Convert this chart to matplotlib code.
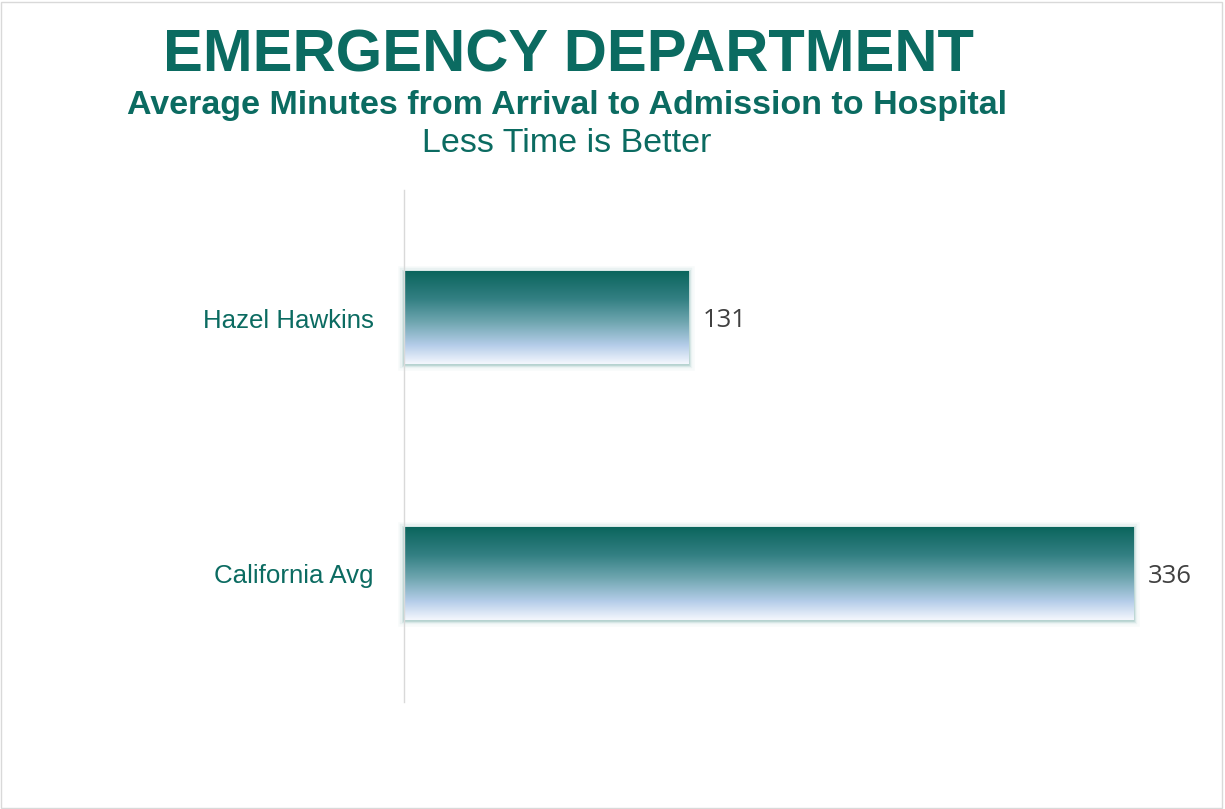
import matplotlib
matplotlib.use("Agg")
import matplotlib.pyplot as plt
import numpy as np
from matplotlib.colors import LinearSegmentedColormap
from matplotlib.patches import Rectangle

# ---- data ----
categories = ["Hazel Hawkins", "California Avg"]
values = [131, 336]
title = "EMERGENCY DEPARTMENT"
subtitle = "Average Minutes from Arrival to Admission to Hospital"
subtitle2 = "Less Time is Better"

TEAL = "#0b6b61"
W, H = 1225, 809
fig = plt.figure(figsize=(W / 100, H / 100), dpi=100)
fig.patch.set_facecolor("white")

ax = fig.add_axes([404 / W, 1 - 702 / H, (1170 - 404) / W, (702 - 190) / H])
ax.set_facecolor("none")
for s in ["top", "right", "bottom"]:
    ax.spines[s].set_visible(False)
ax.spines["left"].set_color("#d9d9d9")
ax.spines["left"].set_linewidth(1)
ax.set_xticks([])
ax.set_yticks(range(len(categories)))
ax.set_yticklabels(categories, fontsize=18.6, color=TEAL, family="Liberation Sans")
ax.tick_params(axis="y", length=0, pad=22)

cmap = LinearSegmentedColormap.from_list(
    "grad", [(0, "#0b655d"), (0.3, "#338083"), (0.55, "#6fa6b0"),
             (0.8, "#b5cde9"), (1, "#f4f7fd")])
grad = np.linspace(0, 1, 256).reshape(-1, 1)
bh = 0.36
bars = ax.barh(range(len(categories)), values, height=bh, color="none", edgecolor="none")
for b, v in zip(bars, values):
    x0, y0 = b.get_x(), b.get_y()
    w, h = b.get_width(), b.get_height()
    # soft glow around the bar
    for lw, a in [(9, 0.035), (6, 0.06), (3.5, 0.1), (1.8, 0.18)]:
        ax.add_patch(Rectangle((x0, y0), w, h, fill=False, edgecolor="#2a7f76",
                               linewidth=lw, alpha=a, zorder=1, clip_on=False))
    ax.imshow(grad, cmap=cmap, aspect="auto", extent=[x0, x0 + w, y0 + h, y0],
              zorder=2, interpolation="bicubic")
    ax.annotate(f"{v}", (x0 + w, y0 + h / 2), xytext=(10.5, -2), textcoords="offset points",
                ha="left", va="center", fontsize=18.5, color="#404040", family="Open Sans")
ax.set_xlim(0, 353)
ax.set_ylim(1.5, -0.5)

fig.text(568 / W, 1 - 71 / H, title, ha="center", va="baseline", fontsize=43,
         fontweight="bold", color=TEAL, family="Liberation Sans")
fig.text(567 / W, 1 - 114 / H, subtitle, ha="center", va="baseline", fontsize=24.5,
         fontweight="bold", color=TEAL, family="Liberation Sans")
fig.text(567 / W, 1 - 152 / H, subtitle2, ha="center", va="baseline", fontsize=24.5,
         color=TEAL, family="Liberation Sans")

fig.add_artist(Rectangle((1 / W, 1 / H), (W - 4) / W, (H - 3) / H, transform=fig.transFigure,
                         fill=False, edgecolor="#d9d9d9", linewidth=1))

fig.savefig("out.png", dpi=100, facecolor="white")
